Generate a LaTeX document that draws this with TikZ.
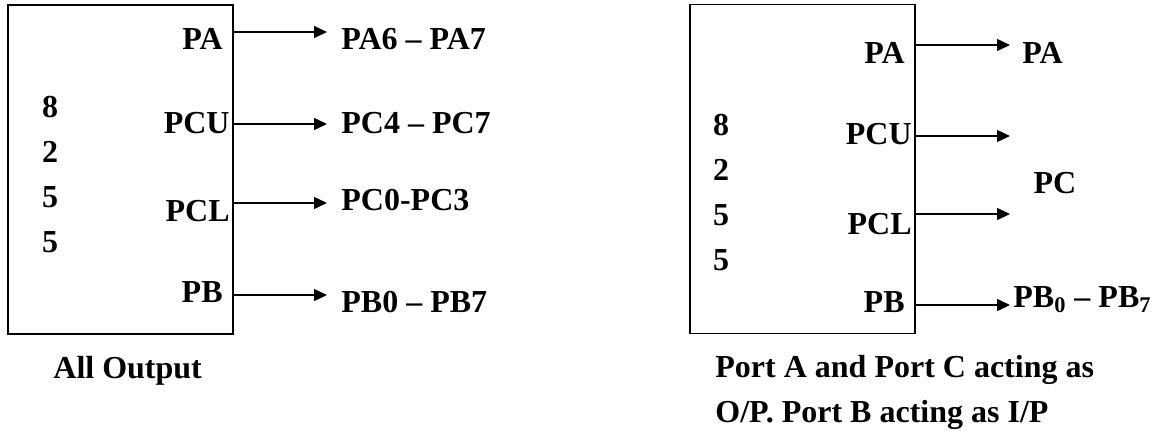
\documentclass[tikz,border=0pt]{standalone}
\usepackage{fontspec}
\setmainfont{Liberation Serif}
\usepackage{tikz}
\usetikzlibrary{positioning,arrows.meta}
\tikzset{
	chip/.style={
		draw,
		line width=0.75pt,
		minimum width=112.5pt,
		minimum height=164.5pt,
		inner sep=0pt
	},
	port/.style={anchor=east, inner sep=5pt},
	pin/.style={anchor=west, inner sep=0pt},
	sig/.style={line width=0.75pt, -{Triangle[length=6.5pt,width=6pt]}}
}

\begin{document}
\begin{tikzpicture}[x=0.5pt, y=-0.5pt, font=\fontsize{16}{22.5}\selectfont\bfseries]
	\useasboundingbox (0,0) rectangle (1157,430);
	% all output
	\node [chip] (chipL) at (120.5,169.5) {};
	\node [align=center] (numL) at (50,175) {8\\2\\5\\5};
	\node [port] (paL) at (233,39) {PA};
	\node [port] (pcuL) at (240,123) {PCU};
	\node [port] (pclL) at (240,211) {PCL};
	\node [port] (pbL) at (233,292) {PB};
	\coordinate (tpaL) at (327,32);
	\coordinate (tpcuL) at (327,124);
	\coordinate (tpclL) at (327,203);
	\coordinate (tpbL) at (327,295);
	\draw [sig] (chipL.east |- tpaL) -- (tpaL);
	\draw [sig] (chipL.east |- tpcuL) -- (tpcuL);
	\draw [sig] (chipL.east |- tpclL) -- (tpclL);
	\draw [sig] (chipL.east |- tpbL) -- (tpbL);
	\node [pin] (opaL) at (341,39) {PA6 -- PA7};
	\node [pin] (opcuL) at (341,123) {PC4 -- PC7};
	\node [pin] (opclL) at (341,200) {PC0-PC3};
	\node [pin] (opbL) at (341,302) {PB0 -- PB7};
	\node [pin, anchor=base west] (capL) at (53,378) {All Output};

	% port A and C out, port B in
	\node [chip] (chipR) at (802.5,169) {};
	\node [align=center] (numR) at (721,192.5) {8\\2\\5\\5};
	\node [port] (paR) at (915,53) {PA};
	\node [port] (pcuR) at (922,134) {PCU};
	\node [port] (pclR) at (922,224) {PCL};
	\node [port] (pbR) at (915,302) {PB};
	\coordinate (tpaR) at (1010,45);
	\coordinate (tpcuR) at (1010,136);
	\coordinate (tpclR) at (1010,214);
	\coordinate (tpbR) at (1010,305);
	\draw [sig] (chipR.east |- tpaR) -- (tpaR);
	\draw [sig] (chipR.east |- tpcuR) -- (tpcuR);
	\draw [sig] (chipR.east |- tpclR) -- (tpclR);
	\draw [sig] (chipR.east |- tpbR) -- (tpbR);
	\node [pin] (opaR) at (1022,53) {PA};
	\node (opcR) at (1055,183) {PC};
	\node [pin] (opbR) at (1013,300) {PB\textsubscript{0} -- PB\textsubscript{7}};
	\node [pin, anchor=base west, align=left] (capR) at (715,422) {Port A and Port C acting as\\O/P. Port B acting as I/P};
\end{tikzpicture}
\end{document}
